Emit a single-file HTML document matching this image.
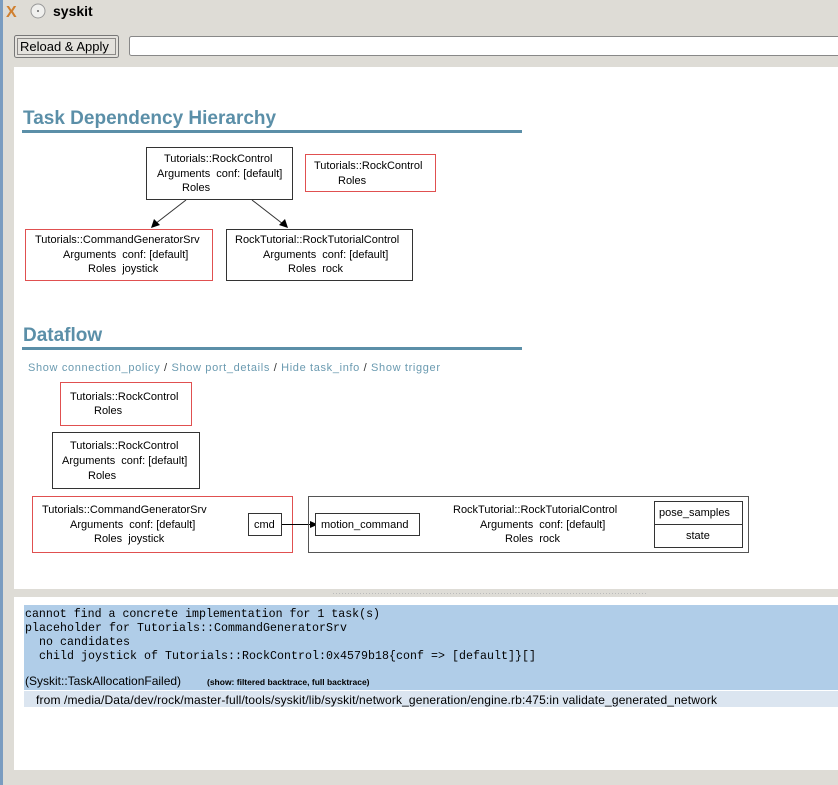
<!DOCTYPE html>
<html><head><meta charset="utf-8"><style>
html,body{margin:0;padding:0;background:#dedcd6;}
svg{display:block;font-family:"Liberation Sans",sans-serif;}
text{white-space:pre;}
</style></head><body>
<svg width="838" height="785" viewBox="0 0 838 785" xmlns="http://www.w3.org/2000/svg" xml:space="preserve">
<rect x="0" y="0" width="838" height="785" fill="#dedcd6"/>
<rect x="0" y="0" width="3" height="785" fill="#7a9cc0"/>
<text x="6" y="17" font-size="16" fill="#d08030" font-weight="bold">X</text>
<circle cx="38" cy="11" r="7" fill="#f0f0ee" stroke="#999"/>
<circle cx="38" cy="11" r="1" fill="#666"/>
<text x="53" y="16" font-size="14" font-weight="bold" fill="#000">syskit</text>
<rect x="14.5" y="35.5" width="104" height="22" rx="2" fill="#e4e2dd" stroke="#777"/>
<rect x="17.5" y="38.5" width="98" height="16" fill="none" stroke="#333" stroke-dasharray="1,1"/>
<text x="20" y="51" font-size="13">Reload &amp; Apply</text>
<rect x="129.5" y="36.5" width="715" height="19" rx="2" fill="#fff" stroke="#888"/>
<rect x="14" y="67" width="824" height="522" fill="#fff"/>
<text x="23" y="124" font-size="19" font-weight="bold" fill="#5b8fa8">Task Dependency Hierarchy</text>
<rect x="22" y="130" width="500" height="3" fill="#5b8fa8"/>
<g font-size="11" fill="#000" stroke-width="1">
<rect x="146.5" y="147.5" width="146" height="52" fill="none" stroke="#333"/>
<text x="164" y="162">Tutorials::RockControl</text>
<text x="157" y="177">Arguments  conf: [default]</text>
<text x="182" y="191">Roles</text>
<rect x="305.5" y="154.5" width="130" height="37" fill="none" stroke="#e05050"/>
<text x="314" y="169">Tutorials::RockControl</text>
<text x="338" y="184">Roles</text>
<line x1="186" y1="200" x2="155" y2="224" stroke="#333"/>
<polygon points="151,228 154,219 160,225" fill="#000"/>
<line x1="252" y1="200" x2="283" y2="224" stroke="#333"/>
<polygon points="288,228 279,225 285,219" fill="#000"/>
<rect x="25.5" y="229.5" width="187" height="51" fill="none" stroke="#e05050"/>
<text x="35" y="243">Tutorials::CommandGeneratorSrv</text>
<text x="63" y="258">Arguments  conf: [default]</text>
<text x="88" y="272">Roles  joystick</text>
<rect x="226.5" y="229.5" width="186" height="51" fill="none" stroke="#333"/>
<text x="235" y="243">RockTutorial::RockTutorialControl</text>
<text x="263" y="258">Arguments  conf: [default]</text>
<text x="288" y="272">Roles  rock</text>
</g>
<text x="23" y="341" font-size="19" font-weight="bold" fill="#5b8fa8">Dataflow</text>
<rect x="22" y="347" width="500" height="3" fill="#5b8fa8"/>
<text x="28" y="371" font-size="11" fill="#6a9ab0" textLength="412" lengthAdjust="spacing">Show connection_policy <tspan fill="#333">/</tspan> Show port_details <tspan fill="#333">/</tspan> Hide task_info <tspan fill="#333">/</tspan> Show trigger</text>
<g font-size="11" fill="#000">
<rect x="60.5" y="382.5" width="131" height="43" fill="none" stroke="#e05050"/>
<text x="70" y="400">Tutorials::RockControl</text>
<text x="94" y="414">Roles</text>
<rect x="52.5" y="432.5" width="147" height="56" fill="none" stroke="#333"/>
<text x="70" y="449">Tutorials::RockControl</text>
<text x="62" y="464">Arguments  conf: [default]</text>
<text x="88" y="479">Roles</text>
<rect x="32.5" y="496.5" width="260" height="56" fill="none" stroke="#e05050"/>
<text x="42" y="513">Tutorials::CommandGeneratorSrv</text>
<text x="70" y="528">Arguments  conf: [default]</text>
<text x="94" y="542">Roles  joystick</text>
<rect x="248.5" y="513.5" width="33" height="22" fill="#fff" stroke="#333"/>
<text x="254" y="528">cmd</text>
<line x1="282" y1="524.5" x2="312" y2="524.5" stroke="#000"/>
<polygon points="318,524.5 310,521 310,528" fill="#000"/>
<rect x="308.5" y="496.5" width="440" height="56" fill="none" stroke="#555"/>
<rect x="315.5" y="513.5" width="104" height="22" fill="#fff" stroke="#333"/>
<text x="321" y="528">motion_command</text>
<text x="453" y="513">RockTutorial::RockTutorialControl</text>
<text x="480" y="528">Arguments  conf: [default]</text>
<text x="505" y="542">Roles  rock</text>
<rect x="654.5" y="501.5" width="88" height="46" fill="#fff" stroke="#333"/>
<line x1="654" y1="524.5" x2="742" y2="524.5" stroke="#333"/>
<text x="659" y="516">pose_samples</text>
<text x="686" y="539">state</text>
</g>
<line x1="333" y1="593.5" x2="648" y2="593.5" stroke="#bbb" stroke-dasharray="1,2"/>
<rect x="14" y="597" width="824" height="173" fill="#fff"/>
<rect x="24" y="605" width="814" height="85" fill="#b0cde8"/>
<g font-family="'Liberation Mono',monospace" font-size="11.6" fill="#000">
<text x="25" y="617" textLength="355" lengthAdjust="spacing">cannot find a concrete implementation for 1 task(s)</text>
<text x="25" y="631" textLength="322" lengthAdjust="spacing">placeholder for Tutorials::CommandGeneratorSrv</text>
<text x="39" y="645" textLength="91" lengthAdjust="spacing">no candidates</text>
<text x="39" y="659" textLength="497" lengthAdjust="spacing">child joystick of Tutorials::RockControl:0x4579b18{conf =&gt; [default]}[]</text>
</g>
<text x="25" y="685" font-size="12">(Syskit::TaskAllocationFailed)</text>
<text x="207" y="685" font-size="8.5" font-weight="bold">(show: filtered backtrace, full backtrace)</text>
<rect x="24" y="691" width="814" height="16" fill="#dbe5f0"/>
<text x="36" y="704" font-size="12" textLength="681" lengthAdjust="spacing">from /media/Data/dev/rock/master-full/tools/syskit/lib/syskit/network_generation/engine.rb:475:in validate_generated_network</text>
</svg>
</body></html>
